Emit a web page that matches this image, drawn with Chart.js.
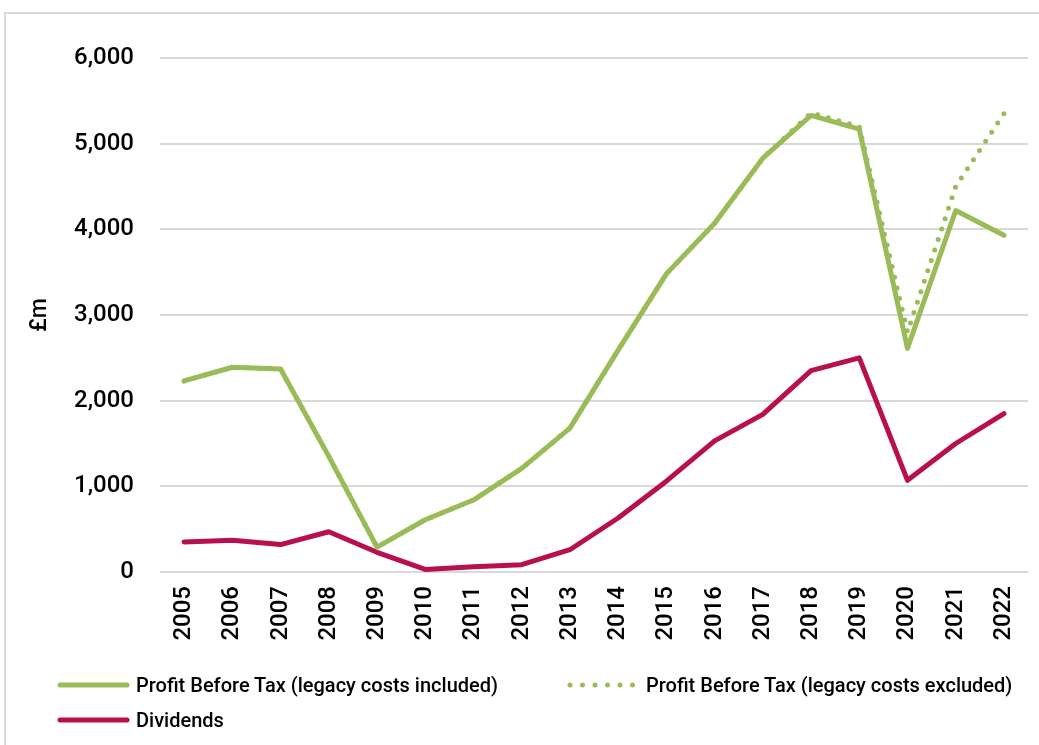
<!DOCTYPE html>
<html>
<head>
<meta charset="utf-8">
<script src="https://cdn.jsdelivr.net/npm/chart.js@4"></script>
<style>
  body { margin: 0; background: #fff; font-family: Roboto, sans-serif; }
  #wrap { position: relative; width: 1039px; height: 745px; overflow: hidden; }
  #frame { position: absolute; left: 4px; top: 12px; width: 1060px; height: 760px; border: 2px solid #d9d9d9; box-sizing: border-box; }
  canvas { position: absolute; left: 0; top: 0; }
  .leg { position: absolute; display: flex; align-items: center; font-size: 20px; font-weight: 500; color: #000; white-space: nowrap; }
  .leg svg { margin-right: 5px; }
</style>
</head>
<body>
<div id="wrap">
  <div id="frame"></div>
  <canvas id="profitChart" width="1039" height="745"></canvas>
  <div id="legend"></div>
</div>
<script>
const years = ["2005", "2006", "2007", "2008", "2009", "2010", "2011", "2012", "2013", "2014", "2015", "2016", "2017", "2018", "2019", "2020", "2021", "2022"];
const pbtIncluded = [2230, 2390, 2370, 1350, 290, 610, 840, 1210, 1680, 2590, 3480, 4070, 4830, 5330, 5170, 2610, 4220, 3930];
const pbtExcluded = [2230, 2390, 2370, 1350, 290, 610, 840, 1210, 1680, 2590, 3480, 4070, 4830, 5360, 5200, 2800, 4500, 5350];
const dividends = [350, 370, 320, 470, 230, 30, 60, 85, 260, 630, 1060, 1530, 1840, 2350, 2500, 1070, 1500, 1850];
const yTicks = [0, 1000, 2000, 3000, 4000, 5000, 6000];

const green = "#9BBB59";
const crimson = "#B8104F";

document.addEventListener("DOMContentLoaded", function () {
  const ctx = document.getElementById("profitChart").getContext("2d");
  const chart = new Chart(ctx, {
    type: "line",
    data: {
      labels: years,
      datasets: [
        {
          label: "Profit Before Tax (legacy costs included)",
          data: pbtIncluded,
          borderColor: green,
          borderWidth: 5,
          pointRadius: 0,
          tension: 0,
          borderCapStyle: "round",
          borderJoinStyle: "round",
          order: 2,
        },
        {
          label: "Profit Before Tax (legacy costs excluded)",
          data: pbtExcluded,
          borderColor: green,
          borderWidth: 5,
          borderDash: [0, 11],
          borderCapStyle: "round",
          pointRadius: 0,
          tension: 0,
          order: 1,
        },
        {
          label: "Dividends",
          data: dividends,
          borderColor: crimson,
          borderWidth: 5,
          pointRadius: 0,
          tension: 0,
          borderCapStyle: "round",
          borderJoinStyle: "round",
          order: 3,
        },
      ],
    },
    options: {
      responsive: false,
      animation: false,
      layout: { padding: { left: 26, right: 9, top: 58, bottom: 93 } },
      plugins: { legend: { display: false }, tooltip: { enabled: false } },
      scales: {
        x: {
          offset: true,
          grid: { display: false },
          border: { display: false },
          ticks: {
            color: "#000",
            font: { family: "Roboto", size: 24, weight: "500" },
            minRotation: 90,
            maxRotation: 90,
            padding: 6,
          },
          afterFit: function (s) { s.height = 80; },
        },
        y: {
          min: 0,
          max: 6000,
          afterBuildTicks: function (s) { s.ticks = yTicks.map(v => ({ value: v })); },
          grid: { color: "#d9d9d9", lineWidth: 2, drawTicks: false },
          border: { display: false },
          ticks: {
            color: "#000",
            font: { family: "Roboto", size: 24, weight: "500" },
            padding: 26,
            callback: v => v.toLocaleString("en-GB"),
          },
          title: {
            display: true,
            text: "£m",
            color: "#000",
            font: { family: "Roboto", size: 23, weight: "500" },
            padding: 0,
          },
          afterFit: function (s) { s.width = 134; },
        },
      },
    },
  });

  // legend in two columns, drawn from the datasets
  const legendPos = [[57, 685], [567, 685], [57, 720]];
  const legend = document.getElementById("legend");
  chart.data.datasets.forEach(function (ds, i) {
    const item = document.createElement("div");
    item.className = "leg";
    item.style.left = legendPos[i][0] + "px";
    item.style.top = (legendPos[i][1] - 12) + "px";
    const dash = ds.borderDash ? 'stroke-dasharray="0 12.5"' : "";
    item.innerHTML = '<svg width="74" height="24"><line x1="3" y1="12" x2="70" y2="12" stroke="' + ds.borderColor +
      '" stroke-width="5" stroke-linecap="round" ' + dash + '/></svg><span>' + ds.label + '</span>';
    legend.appendChild(item);
  });
});
</script>
</body>
</html>
